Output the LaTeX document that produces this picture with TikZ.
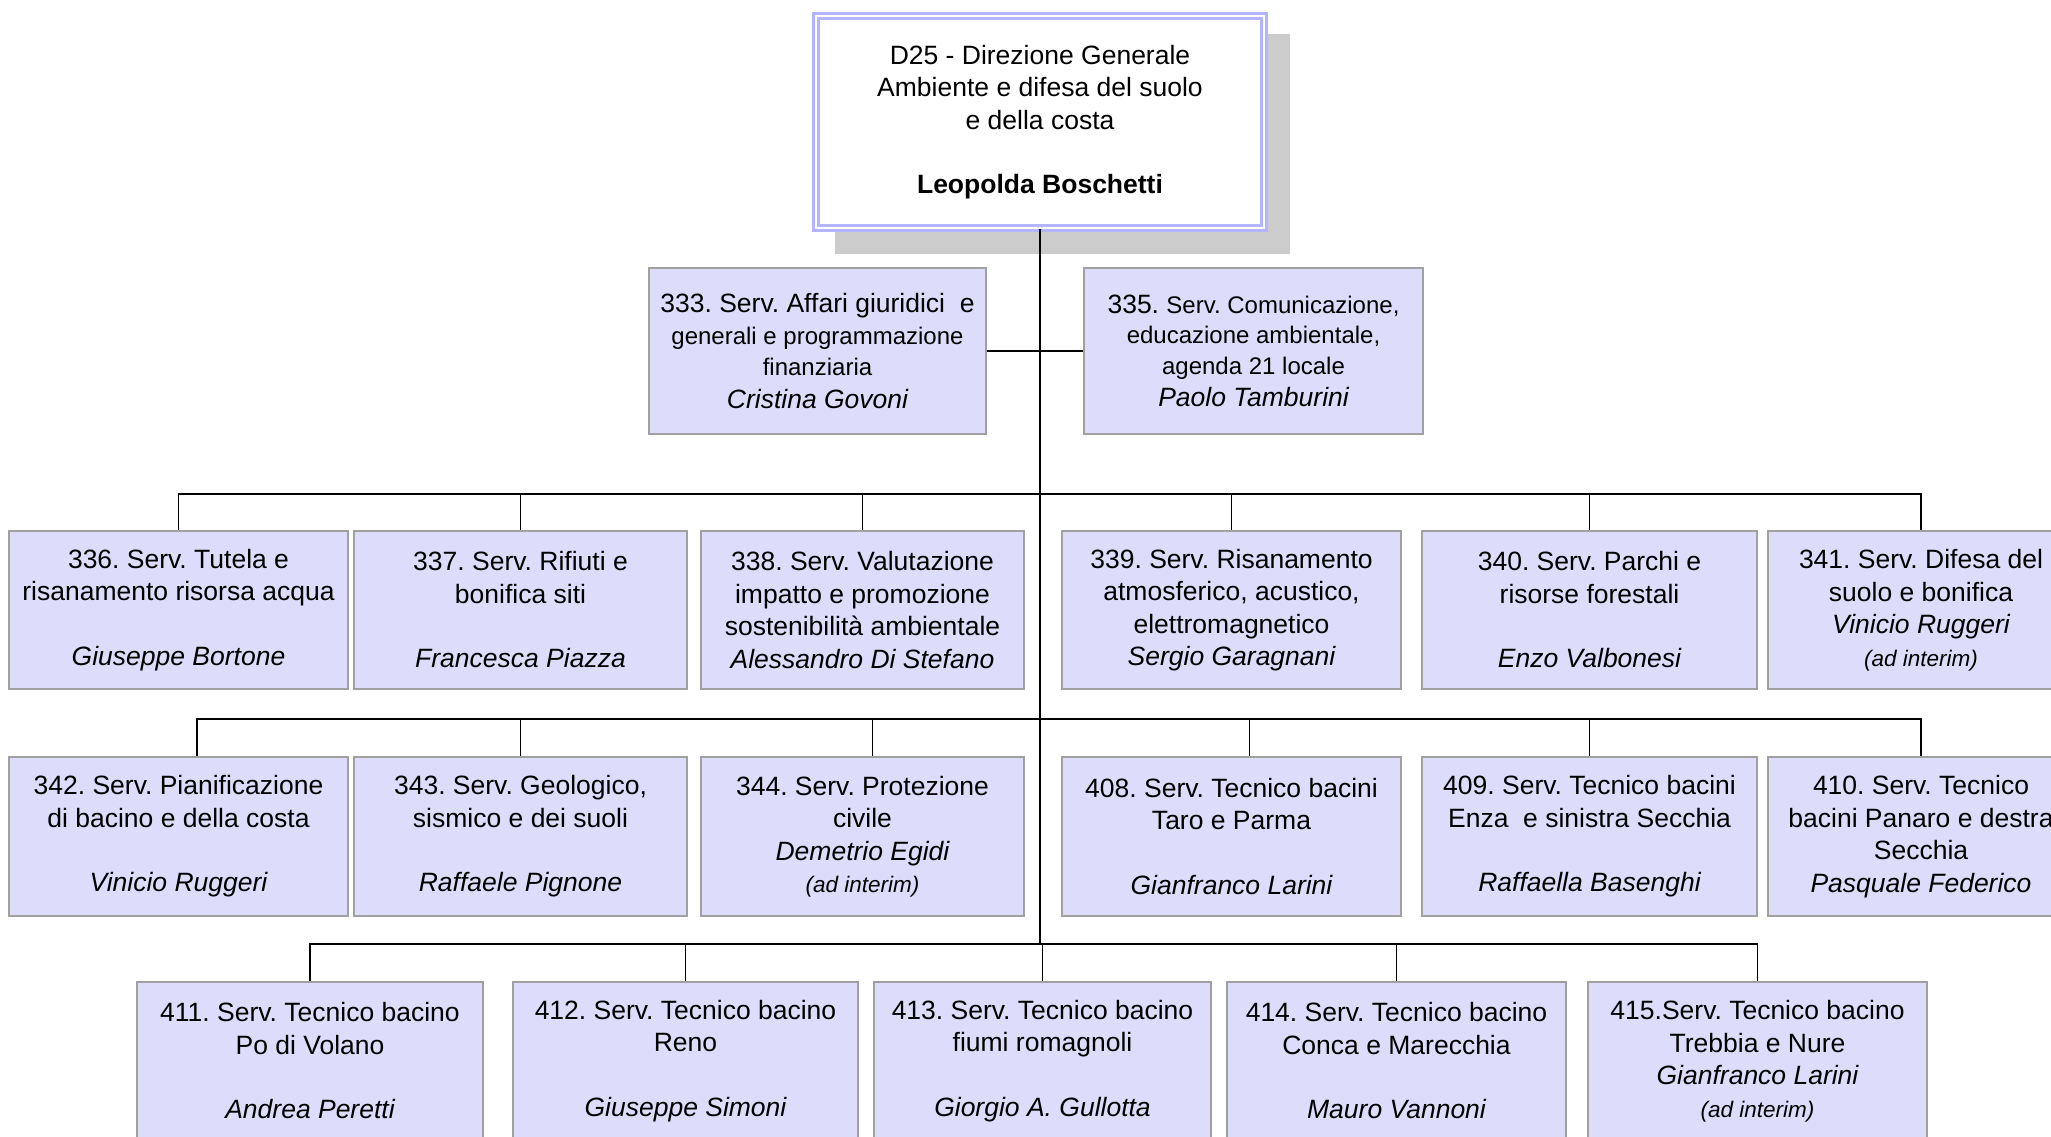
\documentclass[tikz,border=0pt]{standalone}
\usepackage{fontspec}
\setmainfont{Liberation Sans}
\frenchspacing
\definecolor{boxfill}{HTML}{DDDDFB}
\definecolor{boxline}{HTML}{A0A0A0}
\definecolor{topline}{HTML}{B4B4FF}
\definecolor{shadowc}{HTML}{CCCCCC}
\newcommand{\nm}{\fontsize{26.5}{32.5}\selectfont\frenchspacing}
\newcommand{\sm}{\fontsize{24}{30}\selectfont\frenchspacing}
\newcommand{\adint}{\fontsize{22.5}{29}\selectfont\itshape (ad interim)}
\begin{document}
\begin{tikzpicture}[x=1pt,y=-1pt,
  svc/.style={draw=boxline, line width=2pt, fill=boxfill, rectangle, inner sep=0pt, align=center, font=\nm},
  topbox/.style={draw=topline, double=white, double distance=2.5pt, line width=2.5pt, fill=white, rectangle, inner sep=0pt, align=center, font=\nm},
  link/.style={draw=black, line width=1.6pt}]
\useasboundingbox (0,0) rectangle (2051,1137);
\clip (0,0) rectangle (2051,1137);
\fill[shadowc] (835,34) rectangle (1290,254);
\node[topbox, minimum width=448, minimum height=212] (top) at (1040,122)
  {D25 - Direzione Generale\\ Ambiente e difesa del suolo\\ e della costa\\[32pt] \bfseries Leopolda Boschetti};
% row 1
\node[svc, minimum width=337, minimum height=166] (n333) at (817.5,351)
  {333. Serv. Affari giuridici\ \ e\\[-1pt] \sm generali e programmazione\\[-1pt] \sm finanziaria\\ \itshape Cristina Govoni};
\node[svc, minimum width=339, minimum height=166] (n335) at (1253.5,351)
  {335. \sm Serv. Comunicazione,\\[-2pt] \sm educazione ambientale,\\[-2pt] \sm agenda 21 locale\\ \itshape Paolo Tamburini};
% row 2
\node[svc, minimum width=339, minimum height=158] (n336) at (178.5,610)
  {336. Serv. Tutela e\\ risanamento risorsa acqua\\[32pt] \itshape Giuseppe Bortone};
\node[svc, minimum width=333, minimum height=158] (n337) at (520.5,610)
  {337. Serv. Rifiuti e\\ bonifica siti\\[32pt] \itshape Francesca Piazza};
\node[svc, minimum width=323, minimum height=158] (n338) at (862.5,610)
  {338. Serv. Valutazione\\ impatto e promozione\\ sostenibilità ambientale\\ \itshape Alessandro Di Stefano};
\node[svc, minimum width=339, minimum height=158] (n339) at (1231.5,610)
  {339. Serv. Risanamento\\ atmosferico, acustico,\\ elettromagnetico\\ \itshape Sergio Garagnani};
\node[svc, minimum width=335, minimum height=158] (n340) at (1589.5,610)
  {340. Serv. Parchi e\\ risorse forestali\\[32pt] \itshape Enzo Valbonesi};
\node[svc, minimum width=306, minimum height=158] (n341) at (1921,610)
  {341. Serv. Difesa del\\ suolo e bonifica\\ \itshape Vinicio Ruggeri\\ \adint};
% row 3
\node[svc, minimum width=339, minimum height=159] (n342) at (178.5,836.5)
  {342. Serv. Pianificazione\\ di bacino e della costa\\[32pt] \itshape Vinicio Ruggeri};
\node[svc, minimum width=333, minimum height=159] (n343) at (520.5,836.5)
  {343. Serv. Geologico,\\ sismico e dei suoli\\[32pt] \itshape Raffaele Pignone};
\node[svc, minimum width=323, minimum height=159] (n344) at (862.5,836.5)
  {344. Serv. Protezione\\ civile\\ \itshape Demetrio Egidi\\ \adint};
\node[svc, minimum width=339, minimum height=159] (n408) at (1231.5,836.5)
  {408. Serv. Tecnico bacini\\ Taro e Parma\\[32pt] \itshape Gianfranco Larini};
\node[svc, minimum width=335, minimum height=159] (n409) at (1589.5,836.5)
  {409. Serv. Tecnico bacini\\ Enza\ \ e sinistra Secchia\\[32pt] \itshape Raffaella Basenghi};
\node[svc, minimum width=306, minimum height=159] (n410) at (1921,836.5)
  {410. Serv. Tecnico\\ bacini Panaro e destra\\ Secchia\\ \itshape Pasquale Federico};
% row 4
\node[svc, minimum width=346, minimum height=158] (n411) at (310,1061)
  {411. Serv. Tecnico bacino\\ Po di Volano\\[32pt] \itshape Andrea Peretti};
\node[svc, minimum width=345, minimum height=158] (n412) at (685.5,1061)
  {412. Serv. Tecnico bacino\\ Reno\\[32pt] \itshape Giuseppe Simoni};
\node[svc, minimum width=337, minimum height=158] (n413) at (1042.5,1061)
  {413. Serv. Tecnico bacino\\ fiumi romagnoli\\[32pt] \itshape Giorgio A. Gullotta};
\node[svc, minimum width=339, minimum height=158] (n414) at (1396.5,1061)
  {414. Serv. Tecnico bacino\\ Conca e Marecchia\\[32pt] \itshape Mauro Vannoni};
\node[svc, minimum width=339, minimum height=158] (n415) at (1757.5,1061)
  {415.Serv. Tecnico bacino\\ Trebbia e Nure\\ \itshape Gianfranco Larini\\ \adint};
% buses
\coordinate (b2) at (1040,494);
\coordinate (b3) at (1040,719);
\coordinate (b4) at (1040,944);
\draw[link] (top.south) -- (b4);
\draw[link] (n333.east) -- (n335.west);
\draw[link] (n336.north) |- (b2) -| (n341.north);
\draw[link] (n337.north) -- (n337.north |- b2);
\draw[link] (n338.north) -- (n338.north |- b2);
\draw[link] (n339.north) -- (n339.north |- b2);
\draw[link] (n340.north) -- (n340.north |- b2);
\draw[link] ([xshift=18.5pt]n342.north) |- (b3) -| (n410.north);
\draw[link] (n343.north) -- (n343.north |- b3);
\draw[link] ([xshift=10pt]n344.north) -- ([xshift=10pt]n344.north |- b3);
\draw[link] ([xshift=18pt]n408.north) -- ([xshift=18pt]n408.north |- b3);
\draw[link] (n409.north) -- (n409.north |- b3);
\draw[link] (n411.north) |- (b4) -| (n415.north);
\draw[link] (n412.north) -- (n412.north |- b4);
\draw[link] (n413.north) -- (n413.north |- b4);
\draw[link] (n414.north) -- (n414.north |- b4);
\end{tikzpicture}
\end{document}
